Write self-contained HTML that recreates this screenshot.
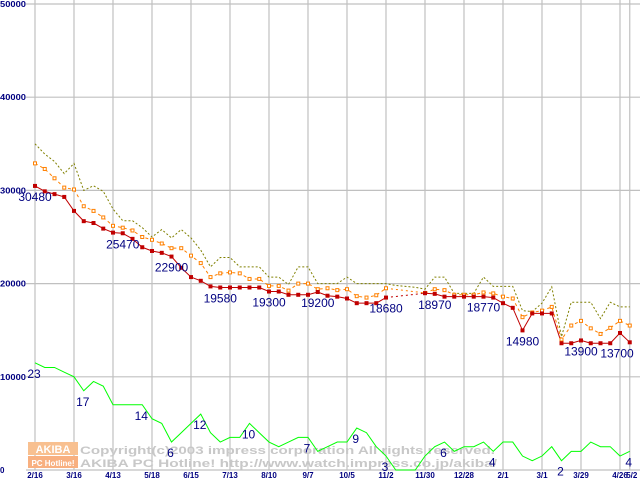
<!DOCTYPE html>
<html><head><meta charset="utf-8"><style>
html,body{margin:0;padding:0;background:#fff;width:640px;height:480px;overflow:hidden}
svg{display:block}
text{font-family:"Liberation Sans",sans-serif}
</style></head><body>
<svg id="chart" width="640" height="480" xmlns="http://www.w3.org/2000/svg"></svg>
<script>
const dateLabels=["2/16","3/16","4/13","5/18","6/15","7/13","8/10","9/7","10/5","11/2","11/30","12/28","2/1","3/1","3/29","4/26"];
const yTicks=[0,10000,20000,30000,40000,50000];
const minPrice=[30.48,29.9,29.6,29.3,27.8,26.7,26.5,25.9,25.47,25.4,24.8,23.9,23.5,23.3,22.9,21.7,20.7,20.3,19.7,19.58,19.58,19.58,19.58,19.58,19.15,19.15,18.8,18.8,18.8,19.1,18.7,18.6,18.4,17.9,17.9,17.9,18.5,null,null,null,18.97,18.9,18.6,18.6,18.6,18.6,18.6,18.5,17.9,17.4,14.98,16.8,16.8,16.8,13.6,13.6,13.9,13.6,13.6,13.6,14.7,13.7];
const avgPrice=[32.9,32.3,31.3,30.3,30.1,28.3,27.8,27.1,26.2,26.0,25.7,25.0,24.7,24.3,23.8,23.8,23.0,22.2,20.7,21.1,21.2,21.1,20.5,20.5,19.75,19.75,19.25,20.0,20.0,19.4,19.5,19.3,19.4,18.65,18.5,18.75,19.5,null,null,null,19.0,19.4,19.3,18.8,18.8,18.8,19.05,18.95,18.6,18.4,16.4,16.9,17.1,17.5,14.0,15.5,16.0,15.2,14.6,15.25,16.0,15.5];
const maxPrice=[35.0,33.9,33.1,31.8,32.9,30.0,30.5,29.9,28.0,26.75,26.75,26.0,25.0,25.8,24.9,25.8,24.9,23.6,21.8,22.8,22.8,21.8,21.8,21.8,20.7,20.7,19.9,21.8,21.8,20.0,20.0,20.0,20.7,20.0,20.0,20.0,20.0,19.8,19.7,19.6,19.4,20.7,20.7,18.95,18.95,18.95,20.7,19.7,19.7,19.7,17.1,17.0,17.9,19.65,14.3,18.0,18.0,18.0,16.25,18.0,17.5,17.5];
const shopCount=[23,22,22,21,20,17,19,18,14,14,14,14,11,10,6,8,10,12,8,6,7,7,10,8,6,5,6,7,7,4,5,6,6,9,8,5,3,0,0,0,3,5,6,4,5,5,6,4,6,6,3,2,3,5,2,4,4,6,5,5,3,4];
const priceLabelIdx=[0,9,14,19,24,29,36,41,46,50,56,61];
const priceLabelText=["30480","25470","22900","19580","19300","19200","18680","18970","18770","14980","13900","13700"];
const countLabelIdx=[0,5,11,14,17,22,28,33,36,42,47,54,61];
const countLabelText=["23","17","14","6","12","10","7","9","3","6","4","2","4"];

const svg=document.getElementById('chart');
const NS="http://www.w3.org/2000/svg";
const X=i=>35+i*9.75;
const Y=v=>470-v*9.32/1000;
const Yk=k=>Y(k*1000);
const Yc=c=>Y(c*500);
function mk(tag,attrs,parent){const e=document.createElementNS(NS,tag);for(const k in attrs)e.setAttribute(k,attrs[k]);(parent||svg).appendChild(e);return e;}

yTicks.forEach((t,i)=>{
  const l=mk('line',{x1:26,x2:640,y1:Y(t),y2:Y(t),stroke:'#c0c0c0','stroke-width':1.2});
  
  
  const attrs={x:0,y:Y(t)+3,'font-size':8,'font-weight':'bold',fill:'#000080'};
  if(t>0){attrs.textLength=26;attrs.lengthAdjust='spacingAndGlyphs';}
  const tx=mk('text',attrs);
  tx.textContent=t;
  
  
});
dateLabels.forEach((d,k)=>{
  const x=X(k*4);
  const l=mk('line',{x1:x,x2:x,y1:0,y2:470,stroke:'#c0c0c0','stroke-width':1.2});
  
  
  const tx=mk('text',{x:x,y:478,'font-size':8,'font-weight':'bold',fill:'#000080','text-anchor':'middle'});
  tx.textContent=d;
  
  
});
{
  const x=X(61);
  const l=mk('line',{x1:x,x2:x,y1:0,y2:470,stroke:'#c0c0c0','stroke-width':1.2});
  
  
  const tx=mk('text',{x:x+2,y:478,'font-size':8,'font-weight':'bold',fill:'#000080','text-anchor':'middle'});
  tx.textContent="5/2";
  
  
}
const wm=mk('g',{});


mk('rect',{x:28,y:442,width:50,height:13,fill:'#f8c090'},wm);
mk('rect',{x:28,y:456,width:50,height:12,fill:'#f8b080'},wm);
const w1=mk('text',{x:53,y:453,'font-size':11,'font-weight':'bold',fill:'#fff','text-anchor':'middle','font-family':'Liberation Mono'},wm);w1.textContent="AKIBA";
const w2=mk('text',{x:53,y:466,'font-size':8,'font-weight':'bold',fill:'#fff','text-anchor':'middle'},wm);w2.textContent="PC Hotline!";
const w3=mk('text',{x:80,y:454,'font-size':11,'font-weight':'bold',fill:'#c8c8c8','font-family':'Liberation Mono',textLength:415,lengthAdjust:'spacingAndGlyphs'},wm);w3.textContent="Copyright(c)2003 impress corporation All rights reserved.";
const w4=mk('text',{x:80,y:467,'font-size':11,'font-weight':'bold',fill:'#c8c8c8','font-family':'Liberation Mono',textLength:417,lengthAdjust:'spacingAndGlyphs'},wm);w4.textContent="AKIBA PC Hotline!  http://www.watch.impress.co.jp/akiba/";

function series(arr,yf,color,dash,name,width){
  let segs=[],cur=[];
  arr.forEach((v,i)=>{if(v==null){if(cur.length)segs.push(cur);cur=[];}else cur.push([X(i),yf(v)]);});
  if(cur.length)segs.push(cur);
  segs.forEach(s=>{
    const p=mk('polyline',{points:s.map(q=>q.join(',')).join(' '),fill:'none',stroke:color,'stroke-width':width||1});
    if(dash)p.setAttribute('stroke-dasharray',dash);
    
    
  });
  for(let k=0;k<segs.length-1;k++){
    const a=segs[k][segs[k].length-1],b=segs[k+1][0];
    const p=mk('line',{x1:a[0],y1:a[1],x2:b[0],y2:b[1],stroke:color,'stroke-width':1,'stroke-dasharray':'2,3'});
    
    
  }
}
series(shopCount,Yc,'#00ff00',null,'shop-count-line');
series(maxPrice,Yk,'#808000','2,2','max-price-line');
series(avgPrice,Yk,'#ff8000','3,3','avg-price-line');
series(minPrice,Yk,'#c00000',null,'min-price-line');
avgPrice.forEach((v,i)=>{if(v==null)return;
  const r=mk('rect',{x:X(i)-1.5,y:Yk(v)-1.5,width:3,height:3,fill:'#fff',stroke:'#ff8000','stroke-width':1});
  
  
});
minPrice.forEach((v,i)=>{if(v==null)return;
  const r=mk('rect',{x:X(i)-2,y:Yk(v)-2,width:4,height:4,fill:'#c00000'});
  
  
});
priceLabelIdx.forEach((i,k)=>{
  const t=mk('text',{x:Math.min(X(i),617),y:Yk(minPrice[i]??18.5)+15,'font-size':12,fill:'#000080','text-anchor':'middle'});
  t.textContent=priceLabelText[k];
  
  
});
countLabelIdx.forEach((i,k)=>{
  const t=mk('text',{x:X(i)-1,y:Yc(shopCount[i])+15,'font-size':12,fill:'#000080','text-anchor':'middle'});
  t.textContent=countLabelText[k];
  
  
});
</script>
</body></html>
